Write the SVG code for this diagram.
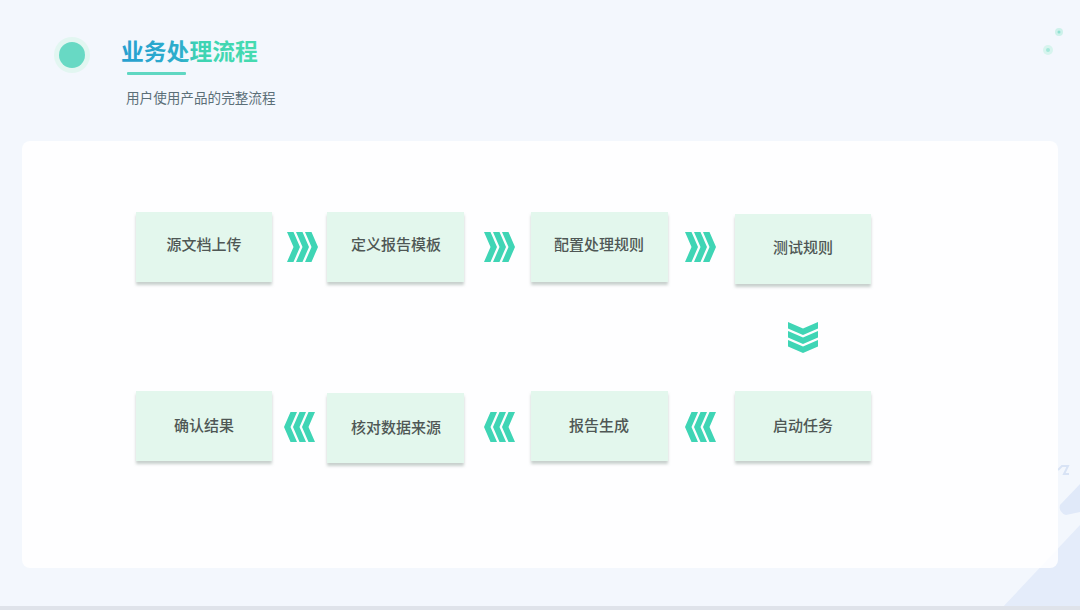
<svg xmlns="http://www.w3.org/2000/svg" width="1080" height="610" viewBox="0 0 1080 610">
<defs>
<linearGradient id="tg" x1="0" y1="0" x2="1" y2="0">
<stop offset="0" stop-color="#279fd0"/>
<stop offset="0.45" stop-color="#2eaecb"/>
<stop offset="0.55" stop-color="#3dd3b3"/>
<stop offset="1" stop-color="#46dbb0"/>
</linearGradient>
<filter id="sh" x="-10%" y="-10%" width="120%" height="130%">
<feDropShadow dx="0" dy="3" stdDeviation="1.5" flood-color="#9aa8a2" flood-opacity="0.55"/>
</filter>
<g id="chevR">
<path d="M0,0 h6.5 l6.5,15 l-6.5,15 h-6.5 l6.5,-15 z"/>
<path d="M9,0 h6.5 l6.5,15 l-6.5,15 h-6.5 l6.5,-15 z"/>
<path d="M18,0 h6.5 l6.5,15 l-6.5,15 h-6.5 l6.5,-15 z"/>
</g>
</defs>
<style>
.box{fill:#e3f7ed;filter:url(#sh)}
.lbl{font-family:"Noto Sans CJK SC","Noto Sans",sans-serif;font-size:15px;font-weight:500;fill:#4f5755;text-anchor:middle;dominant-baseline:central}
.chev{fill:#3fd5b5}
</style>
<rect width="1080" height="610" fill="#f3f7fd"/>
<path d="M1000,610 L1080,525 L1080,610 Z" fill="#e4ecfa"/>
<path d="M1066,515 a8,8 0 0 1 -6,-10 L1080,484 L1080,512 Z" fill="#e0e9f9"/>
<path d="M1058,470 l4,-4 h6 l-4,8 h5" fill="none" stroke="#d8e3f5" stroke-width="2"/>
<rect x="0" y="606" width="1080" height="4" fill="#dfe3ea"/>
<circle cx="1059" cy="32" r="4" fill="#cdf1ea"/>
<circle cx="1059" cy="32" r="1.5" fill="#8fe0d2"/>
<circle cx="1048" cy="50" r="5" fill="#d7f4ee"/>
<circle cx="1048" cy="50" r="2" fill="#a5e8da"/>
<g id="header">
<circle cx="72" cy="55" r="18" fill="#e2f6f1"/>
<circle cx="72" cy="55" r="13" fill="#68d9c4"/>
<text x="121" y="60" font-family="Noto Sans CJK SC,sans-serif" font-size="22.8" font-weight="700" fill="url(#tg)">业务处理流程</text>
<rect x="127" y="72" width="59" height="3" rx="1" fill="#5fd7c2"/>
<text x="126" y="103" font-family="Noto Sans CJK SC,sans-serif" font-size="13.6" fill="#5b6f78">用户使用产品的完整流程</text>
</g>
<rect x="22" y="141" width="1036" height="427" rx="8" fill="#ffffff" opacity="0.85"/>
<g id="n1"><rect class="box" x="136" y="212" width="136" height="70"/><text class="lbl" x="204" y="243.5">源文档上传</text></g>
<g id="n2"><rect class="box" x="327" y="212" width="137" height="70"/><text class="lbl" x="396" y="243.5">定义报告模板</text></g>
<g id="n3"><rect class="box" x="531" y="212" width="137" height="70"/><text class="lbl" x="599" y="243.5">配置处理规则</text></g>
<g id="n4"><rect class="box" x="735" y="214" width="136" height="70"/><text class="lbl" x="803" y="246.5">测试规则</text></g>
<g id="n5"><rect class="box" x="735" y="391" width="136" height="70"/><text class="lbl" x="803" y="424.5">启动任务</text></g>
<g id="n6"><rect class="box" x="531" y="391" width="137" height="70"/><text class="lbl" x="599" y="424.5">报告生成</text></g>
<g id="n7"><rect class="box" x="327" y="393" width="137" height="70"/><text class="lbl" x="396" y="426">核对数据来源</text></g>
<g id="n8"><rect class="box" x="136" y="391" width="136" height="70"/><text class="lbl" x="204" y="424.5">确认结果</text></g>
<g id="connectors" class="chev">
<use href="#chevR" x="287" y="232"/>
<use href="#chevR" x="484" y="232"/>
<use href="#chevR" x="685" y="232"/>
<use href="#chevR" transform="translate(818,322) rotate(90)"/>
<use href="#chevR" transform="translate(716,442) rotate(180)"/>
<use href="#chevR" transform="translate(515,442) rotate(180)"/>
<use href="#chevR" transform="translate(315,442) rotate(180)"/>
</g>
</svg>
